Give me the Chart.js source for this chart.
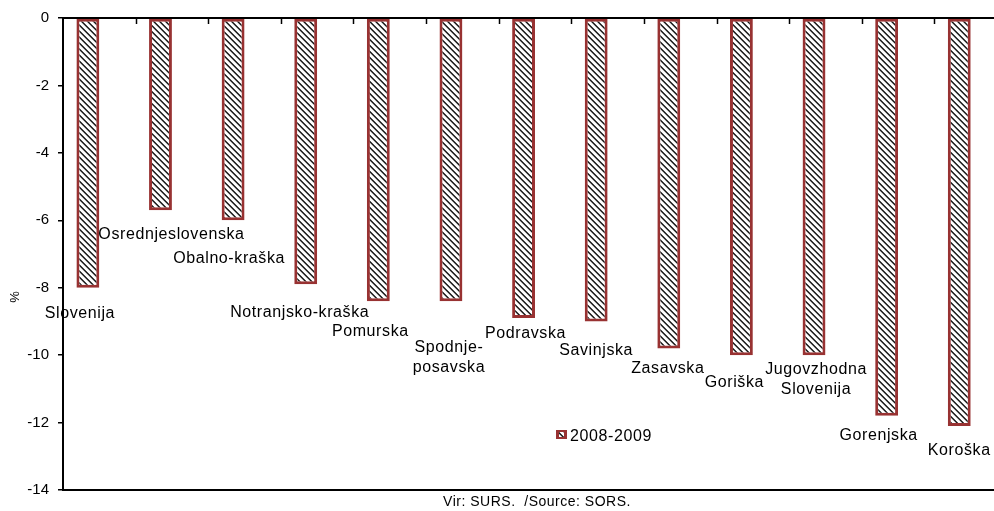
<!DOCTYPE html>
<html>
<head>
<meta charset="utf-8">
<script src="https://cdn.jsdelivr.net/npm/chart.js@4.4.0/dist/chart.umd.min.js"></script>
<style>
  html, body { margin:0; padding:0; overflow:hidden; background:#fff; }
  #wrap { position:relative; width:1007px; height:511px; }
</style>
</head>
<body>
<div id="wrap"><canvas id="c"></canvas></div>
<script>
/* data */
const categories = ['Slovenija','Osrednjeslovenska','Obalno-kraška','Notranjsko-kraška','Pomurska',
  ['Spodnje-','posavska'],'Podravska','Savinjska','Zasavska','Goriška',['Jugovzhodna','Slovenija'],'Gorenjska','Koroška'];
const change0809 = [-8.0,-5.7,-6.0,-7.9,-8.4,-8.4,-8.9,-9.0,-9.8,-10.0,-10.0,-11.8,-12.1];
const emptySeries = categories.map(() => null);
const seriesName = '2008-2009';
const yMin = -14, yMax = 0, yStep = 2;
const sourceText = 'Vir: SURS.  /Source: SORS.';

/* manual label placement (px, relative to bar tip) */
const labelDx = [-8, 11, -4, -6, -8, -2, 2, 0, -1, -7, 2, -8, 0];
const labelDy = [26, 24, 38, 28, 30, 46, 16, 29, 20, 27, 14, 20, 25];

const RED = '#983232';
const FONT = '"Liberation Sans", Arial, sans-serif';

function hatch(){
  const n = 6, p = document.createElement('canvas');
  p.width = n; p.height = n;
  const g = p.getContext('2d');
  g.fillStyle = '#fff'; g.fillRect(0,0,n,n);
  for (let y=0;y<n;y++) for (let x=0;x<n;x++){
    const k = ((x - y) % n + n) % n;
    if (k === 0) { g.fillStyle = '#1a1a1a'; g.fillRect(x,y,1,1); }
    else if (k === 1) { g.fillStyle = '#555'; g.fillRect(x,y,1,1); }
    else if (k === 5) { g.fillStyle = '#b0b0b0'; g.fillRect(x,y,1,1); }
  }
  return g.createPattern(p, 'repeat');
}
const pat = hatch();

const extras = {
  id: 'extras',
  afterDatasetsDraw(chart){
    const ctx = chart.ctx, a = chart.chartArea, xs = chart.scales.x;
    ctx.save();
    ctx.strokeStyle = '#000'; ctx.lineWidth = 2;
    ctx.beginPath(); ctx.moveTo(a.left - 1, a.top); ctx.lineTo(a.right, a.top); ctx.stroke();
    ctx.beginPath(); ctx.moveTo(a.left - 1, a.bottom); ctx.lineTo(a.right, a.bottom); ctx.stroke();
    // inward category ticks on the zero axis
    ctx.lineWidth = 1.5;
    for (let i=1;i<=categories.length;i++){
      const x = Math.round((xs.getPixelForValue(i-1) + xs.getPixelForValue(i))/2) + 0.5;
      ctx.beginPath(); ctx.moveTo(x, a.top); ctx.lineTo(x, a.top + 6); ctx.stroke();
    }
    // category labels under each bar
    const meta = chart.getDatasetMeta(0);
    ctx.fillStyle = '#000';
    ctx.font = '16px ' + FONT;
    ctx.textAlign = 'center'; ctx.textBaseline = 'middle';
    if ('letterSpacing' in ctx) ctx.letterSpacing = '0.6px';
    meta.data.forEach((bar, i) => {
      const lines = [].concat(categories[i]);
      lines.forEach((t, j) => ctx.fillText(t, bar.x + labelDx[i], bar.y + labelDy[i] + j*20));
    });
    // legend
    ctx.fillStyle = RED; ctx.fillRect(556, 430, 11, 9);
    ctx.fillStyle = pat; ctx.fillRect(559, 432, 5, 5);
    ctx.fillStyle = '#000'; ctx.textAlign = 'left';
    ctx.fillText(seriesName, 570, 437);
    // source
    ctx.font = '14px ' + FONT;
    if ('letterSpacing' in ctx) ctx.letterSpacing = '0.5px';
    ctx.textAlign = 'center';
    ctx.fillText(sourceText, 537, 502);
    // y title
    ctx.font = '13px ' + FONT;
    if ('letterSpacing' in ctx) ctx.letterSpacing = '0px';
    ctx.translate(15, 297); ctx.rotate(-Math.PI/2);
    ctx.fillText('%', 0, 0);
    ctx.restore();
  }
};

new Chart(document.getElementById('c'), {
  type: 'bar',
  data: {
    labels: categories,
    datasets: [
      { label: seriesName, data: change0809, backgroundColor: pat, borderColor: RED, borderWidth: 3, borderSkipped: false },
      { label: '', data: emptySeries }
    ]
  },
  options: {
    responsive: true, maintainAspectRatio: false, animation: false,
    layout: { padding: { top: 16, bottom: 21, left: 0, right: 0 } },
    categoryPercentage: 0.63, barPercentage: 1,
    plugins: { legend: { display: false }, tooltip: { enabled: false } },
    scales: {
      x: { display: false },
      y: {
        min: yMin, max: yMax,
        afterFit: s => { s.width = 63; },
        border: { color: '#000', width: 2 },
        grid: { drawOnChartArea: false, tickLength: 5, color: '#000', lineWidth: 1.5 },
        ticks: { stepSize: yStep, color: '#000', padding: 9, font: { family: FONT, size: 15 } }
      }
    }
  },
  plugins: [extras]
});
</script>
</body>
</html>
